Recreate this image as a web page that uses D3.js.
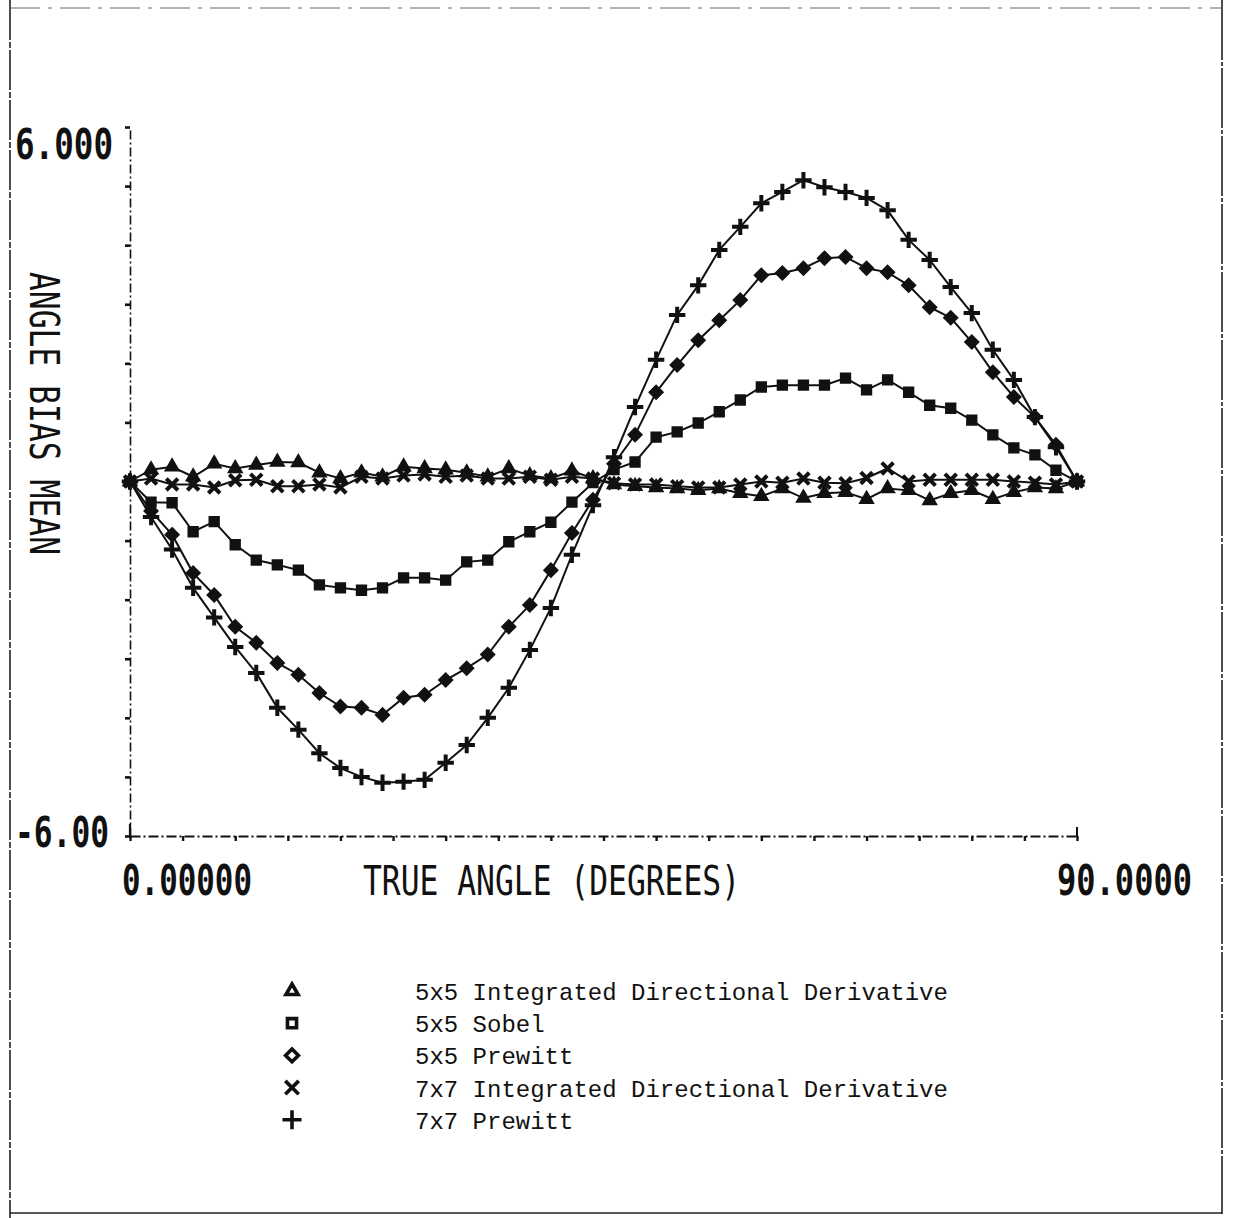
<!DOCTYPE html>
<html>
<head>
<meta charset="utf-8">
<script src="https://cdn.jsdelivr.net/npm/d3@7"></script>
<style>
  body { margin: 0; background: #fff; }
  svg { display: block; }
</style>
</head>
<body>
<div id="canvas1"></div>
<script>

// true angle in degrees, sampled every 2 degrees
var angles = [0, 2, 4, 6, 8, 10, 12, 14, 16, 18, 20, 22, 24, 26, 28, 30, 32, 34, 36, 38, 40, 42, 44,
              46, 48, 50, 52, 54, 56, 58, 60, 62, 64, 66, 68, 70, 72, 74, 76, 78, 80, 82, 84, 86, 88, 90];

// 5x5 Integrated Directional Derivative
var idd5 = [0, 0.2, 0.25, 0.08, 0.3, 0.22, 0.28, 0.33, 0.32, 0.15, 0.05, 0.15, 0.08, 0.25, 0.22, 0.2,
            0.15, 0.08, 0.22, 0.1, 0.05, 0.18, 0.05, -0.05, -0.08, -0.1, -0.12, -0.15, -0.12, -0.2, -0.25,
            -0.12, -0.28, -0.2, -0.18, -0.3, -0.12, -0.15, -0.32, -0.2, -0.15, -0.3, -0.18, -0.1, -0.12, 0];

// 5x5 Sobel
var sobel5 = [0, -0.35, -0.36, -0.85, -0.68, -1.07, -1.33, -1.41, -1.5, -1.75, -1.8, -1.84, -1.8, -1.63,
              -1.63, -1.67, -1.36, -1.33, -1.02, -0.85, -0.69, -0.35, -0.02, 0.2, 0.33, 0.75, 0.84, 0.99,
              1.18, 1.38, 1.6, 1.63, 1.63, 1.63, 1.75, 1.55, 1.72, 1.51, 1.29, 1.24, 1.04, 0.79, 0.57,
              0.45, 0.19, 0];

// 5x5 Prewitt
var prewitt5 = [0, -0.5, -0.9, -1.55, -1.92, -2.46, -2.73, -3.07, -3.27, -3.58, -3.81, -3.83, -3.95,
                -3.66, -3.61, -3.36, -3.16, -2.93, -2.46, -2.09, -1.5, -0.87, -0.31, 0.3, 0.79, 1.51,
                1.97, 2.39, 2.73, 3.07, 3.49, 3.53, 3.61, 3.78, 3.8, 3.61, 3.54, 3.32, 2.95, 2.77, 2.36,
                1.85, 1.43, 1.09, 0.62, 0];

// 7x7 Integrated Directional Derivative
var idd7 = [0, 0.05, -0.05, -0.05, -0.1, 0.02, 0.03, -0.08, -0.08, -0.05, -0.1, 0.08, 0.05, 0.1, 0.12,
            0.08, 0.1, 0.05, 0.05, 0.08, 0.03, 0.08, 0.05, -0.03, -0.05, -0.05, -0.08, -0.1, -0.1, -0.05,
            0, -0.02, 0.05, -0.02, -0.03, 0.06, 0.22, 0, 0.03, 0.03, 0.03, 0.03, 0, -0.02, -0.05, 0];

// 7x7 Prewitt
var prewitt7 = [0, -0.6, -1.15, -1.8, -2.3, -2.8, -3.24, -3.83, -4.2, -4.6, -4.85, -5.0, -5.1, -5.08,
                -5.05, -4.76, -4.46, -4.0, -3.49, -2.85, -2.14, -1.24, -0.4, 0.41, 1.26, 2.06, 2.82,
                3.32, 3.92, 4.31, 4.71, 4.9, 5.1, 4.98, 4.9, 4.8, 4.59, 4.09, 3.75, 3.29, 2.85, 2.23,
                1.72, 1.09, 0.58, 0];

var seriesNames = ["5x5 Integrated Directional Derivative", "5x5 Sobel", "5x5 Prewitt",
                   "7x7 Integrated Directional Derivative", "7x7 Prewitt"];
var seriesValues = [idd5, sobel5, prewitt5, idd7, prewitt7];

var yTicks = [-6, -5, -4, -3, -2, -1, 0, 1, 2, 3, 4, 5, 6];
var xTicks = [0, 5, 10, 15, 20, 25, 30, 35, 40, 45, 50, 55, 60, 65, 70, 75, 80, 85, 90];

var W = 1234, H = 1218;
var plotFont = "'DejaVu Sans Mono', 'Liberation Mono', monospace";

var svg = d3.select("#canvas1").append("svg")
            .attr("width", W)
            .attr("height", H);

var x = d3.scaleLinear().domain([0, 90]).range([130, 1077]);
var y = d3.scaleLinear().domain([-6, 6]).range([836, 127]);

// marker shapes (d3 v7 stroke symbols, with fallbacks)
var symTypes = [d3.symbolTriangle2 || d3.symbolTriangle,
                d3.symbolSquare2 || d3.symbolSquare,
                d3.symbolDiamond2 || d3.symbolDiamond,
                d3.symbolTimes || d3.symbolCross,
                d3.symbolPlus || d3.symbolCross];

// page frame, looks like a photocopied border
var frame = svg.append("g")
               .attr("fill", "none")
               .attr("stroke", "#222")
               .attr("stroke-width", 1.6);
frame.append("line").attr("x1", 10).attr("y1", 0).attr("x2", 10).attr("y2", 1218)
     .attr("stroke-dasharray", "40,2,6,2");
frame.append("line").attr("x1", 1222).attr("y1", 0).attr("x2", 1222).attr("y2", 1214)
     .attr("stroke-dasharray", "60,2,4,2");
frame.append("line").attr("x1", 10).attr("y1", 1213).attr("x2", 1222).attr("y2", 1213);
frame.append("line").attr("x1", 10).attr("y1", 8).attr("x2", 1222).attr("y2", 8)
     .attr("stroke-width", 1).attr("stroke", "#666")
     .attr("stroke-dasharray", "30,8,4,8");

// y axis
var yAxis = svg.append("g")
               .attr("transform", "translate(" + x(0) + ",0)")
               .call(d3.axisLeft(y).tickValues(yTicks).tickSize(5).tickSizeOuter(0).tickFormat(""));
yAxis.select(".domain").attr("stroke", "#111").attr("stroke-width", 1.6)
     .attr("stroke-dasharray", "9,3,2,3");
yAxis.selectAll(".tick line").attr("stroke", "#111").attr("stroke-width", 2.6);

// x axis
var xAxis = svg.append("g")
               .attr("transform", "translate(0," + y(-6) + ")")
               .call(d3.axisBottom(x).tickValues(xTicks).tickSize(5).tickSizeOuter(0).tickFormat(""));
xAxis.select(".domain").attr("stroke", "#111").attr("stroke-width", 1.8)
     .attr("stroke-dasharray", "10,3,2,3");
xAxis.selectAll(".tick line").attr("stroke", "#111").attr("stroke-width", 2.4);
// right end of x axis turns upward
svg.append("line")
   .attr("x1", x(90)).attr("x2", x(90))
   .attr("y1", y(-6)).attr("y2", y(-6) - 9)
   .attr("stroke", "#111").attr("stroke-width", 2);
// solid stub at the axis origin
svg.append("line")
   .attr("x1", x(0)).attr("x2", x(0))
   .attr("y1", y(-6)).attr("y2", y(-6) - 12)
   .attr("stroke", "#111").attr("stroke-width", 2.2);

// axis labels in plotter lettering
function plotText(txt, px, py, len, size, weight) {
  return svg.append("text").text(txt)
            .attr("x", px)
            .attr("y", py)
            .attr("font-family", plotFont)
            .attr("font-size", size)
            .attr("font-weight", weight)
            .attr("textLength", len)
            .attr("lengthAdjust", "spacingAndGlyphs")
            .style("fill", "#111");
}

plotText(d3.format(".3f")(yTicks[yTicks.length - 1]), 15, 159, 98, 42, "bold");
plotText("-6.00", 15, 847, 94, 42, "bold");
plotText(d3.format(".5f")(xTicks[0]), 122, 895, 130, 42, "bold");
plotText(d3.format(".4f")(xTicks[xTicks.length - 1]), 1057, 895, 135, 42, "bold");
plotText("TRUE ANGLE (DEGREES)", 363, 895, 377, 40, "normal");

svg.append("text").text("ANGLE BIAS MEAN")
   .attr("transform", "translate(30,272) rotate(90)")
   .attr("font-family", plotFont)
   .attr("font-size", 40)
   .attr("textLength", 283)
   .attr("lengthAdjust", "spacingAndGlyphs")
   .style("fill", "#111");

// the five curves
var line = d3.line()
             .x(function(d, i) { return x(angles[i]); })
             .y(function(d) { return y(d); });

var curves = svg.append("g");
seriesValues.forEach(function(vals, k) {
  curves.append("path")
        .datum(vals)
        .attr("d", line)
        .attr("fill", "none")
        .attr("stroke", "#111")
        .attr("stroke-width", 2);
});

seriesValues.forEach(function(vals, k) {
  var sym = d3.symbol().type(symTypes[k]).size(k >= 3 ? 90 : 80);
  curves.selectAll(null)
        .data(vals)
        .enter()
        .append("path")
        .attr("d", sym)
        .attr("transform", function(d, i) {
          return "translate(" + x(angles[i]) + "," + y(d) + ")";
        })
        .attr("fill", k < 3 ? "#111" : "none")
        .attr("stroke", "#111")
        .attr("stroke-width", k < 3 ? 3.4 : 4);
});

// legend
var legend = svg.append("g");
seriesNames.forEach(function(name, k) {
  var ly = 991 + k * 32.2;
  legend.append("path")
        .attr("d", d3.symbol().type(symTypes[k]).size(k >= 3 ? 120 : 105))
        .attr("transform", "translate(292," + ly + ")")
        .attr("fill", "none")
        .attr("stroke", "#111")
        .attr("stroke-width", 3.6);
  legend.append("text").text(name)
        .attr("x", 415)
        .attr("y", ly + 9)
        .attr("font-family", "'Liberation Mono', 'DejaVu Sans Mono', monospace")
        .attr("font-size", 24)
        .style("fill", "#111");
});

</script>
</body>
</html>
